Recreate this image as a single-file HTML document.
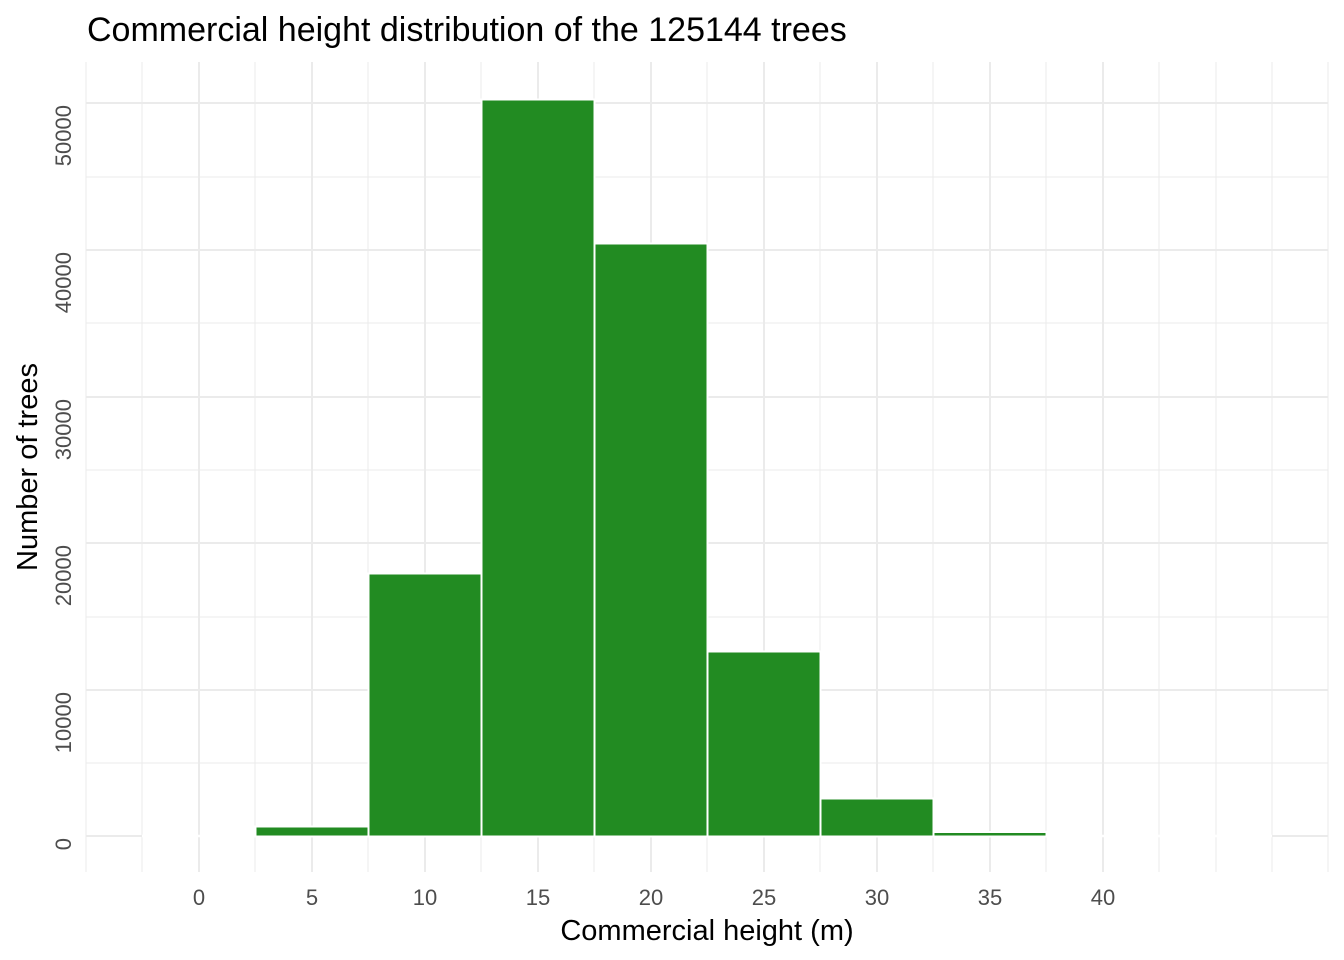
<!DOCTYPE html>
<html><head><style>body{margin:0;background:#fff}svg{display:block}</style></head><body>
<svg width="1344" height="960" xmlns="http://www.w3.org/2000/svg" font-family="Liberation Sans, Arial, sans-serif">
<rect width="1344" height="960" fill="#fff"/>
<g stroke="#ebebeb">
<line x1="86" x2="1328" y1="763" y2="763" stroke-width="1"/>
<line x1="86" x2="1328" y1="617" y2="617" stroke-width="1"/>
<line x1="86" x2="1328" y1="470" y2="470" stroke-width="1"/>
<line x1="86" x2="1328" y1="323" y2="323" stroke-width="1"/>
<line x1="86" x2="1328" y1="177" y2="177" stroke-width="1"/>
<line x1="86" x2="1328" y1="836" y2="836" stroke-width="2"/>
<line x1="86" x2="1328" y1="690" y2="690" stroke-width="2"/>
<line x1="86" x2="1328" y1="543" y2="543" stroke-width="2"/>
<line x1="86" x2="1328" y1="397" y2="397" stroke-width="2"/>
<line x1="86" x2="1328" y1="250" y2="250" stroke-width="2"/>
<line x1="86" x2="1328" y1="103" y2="103" stroke-width="2"/>
<g stroke-width="1">
<line x1="86" x2="86" y1="62" y2="872"/><line x1="142" x2="142" y1="62" y2="872"/>
<line x1="255" x2="255" y1="62" y2="872"/><line x1="368" x2="368" y1="62" y2="872"/>
<line x1="481" x2="481" y1="62" y2="872"/><line x1="594" x2="594" y1="62" y2="872"/>
<line x1="707" x2="707" y1="62" y2="872"/><line x1="820" x2="820" y1="62" y2="872"/>
<line x1="933" x2="933" y1="62" y2="872"/><line x1="1046" x2="1046" y1="62" y2="872"/>
<line x1="1159" x2="1159" y1="62" y2="872"/><line x1="1216" x2="1216" y1="62" y2="872"/>
<line x1="1272" x2="1272" y1="62" y2="872"/><line x1="1328" x2="1328" y1="62" y2="872"/>
</g>
<g stroke-width="2">
<line x1="199" x2="199" y1="62" y2="872"/><line x1="312" x2="312" y1="62" y2="872"/>
<line x1="425" x2="425" y1="62" y2="872"/><line x1="538" x2="538" y1="62" y2="872"/>
<line x1="651" x2="651" y1="62" y2="872"/><line x1="764" x2="764" y1="62" y2="872"/>
<line x1="877" x2="877" y1="62" y2="872"/><line x1="990" x2="990" y1="62" y2="872"/>
<line x1="1103" x2="1103" y1="62" y2="872"/>
</g>
</g>
<line x1="142" x2="1272" y1="836" y2="836" stroke="#fff" stroke-width="2.5"/>
<g fill="#228b22" stroke="#fff" stroke-width="2">
<rect x="255.5" y="826.5" width="113" height="10"/>
<rect x="368.5" y="573.5" width="113" height="263"/>
<rect x="481.5" y="99.5" width="113" height="737"/>
<rect x="594.5" y="243.5" width="113" height="593"/>
<rect x="707.5" y="651.5" width="113" height="185"/>
<rect x="820.5" y="798.5" width="113" height="38"/>
<rect x="933.5" y="832" width="113" height="4.5"/>
</g>
<g fill="#4d4d4d" font-size="22" text-anchor="middle">
<text x="199" y="905">0</text><text x="312" y="905">5</text><text x="425" y="905">10</text>
<text x="538" y="905">15</text><text x="651" y="905">20</text><text x="764" y="905">25</text>
<text x="877" y="905">30</text><text x="990" y="905">35</text><text x="1103" y="905">40</text>
</g>
<g fill="#4d4d4d" font-size="22" text-anchor="end">
<text transform="translate(71,838) rotate(-90)">0</text>
<text transform="translate(71,692) rotate(-90)">10000</text>
<text transform="translate(71,545) rotate(-90)">20000</text>
<text transform="translate(71,399) rotate(-90)">30000</text>
<text transform="translate(71,252) rotate(-90)">40000</text>
<text transform="translate(71,105) rotate(-90)">50000</text>
</g>
<text x="707" y="940" font-size="29" text-anchor="middle" fill="#000">Commercial height (m)</text>
<text transform="translate(37,467) rotate(-90)" font-size="29" text-anchor="middle" fill="#000">Number of trees</text>
<text x="87" y="41" font-size="34" fill="#000">Commercial height distribution of the 125144 trees</text>
</svg>
</body></html>
